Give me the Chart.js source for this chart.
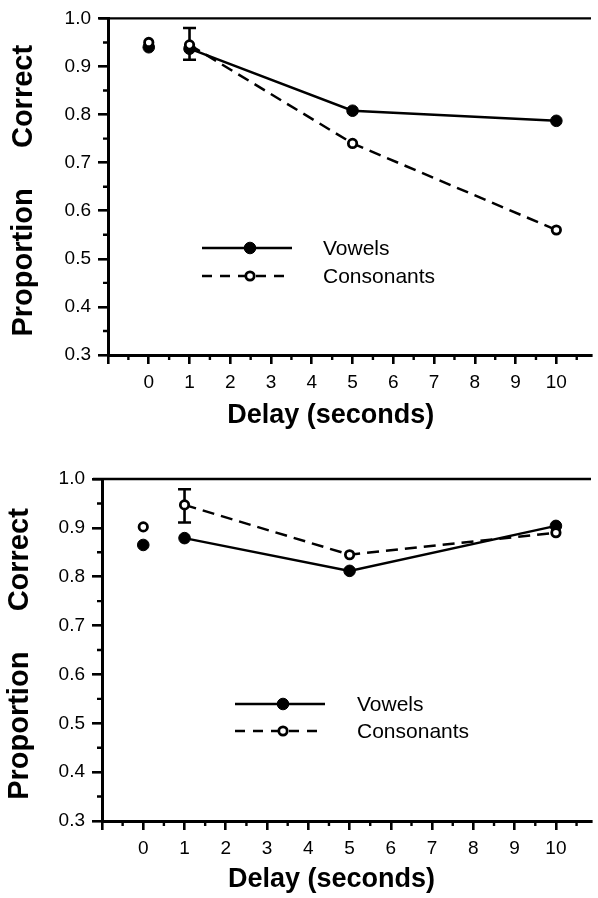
<!DOCTYPE html>
<html>
<head>
<meta charset="utf-8">
<script src="https://cdn.jsdelivr.net/npm/chart.js@4.4.1/dist/chart.umd.min.js"></script>
<style>
  html, body { margin: 0; padding: 0; background: #fff; }
  canvas { display: block; }
</style>
</head>
<body>
<canvas id="grafica1" width="598" height="449"></canvas>
<canvas id="grafica2" width="598" height="449"></canvas>
<script>
// datos
const seriesNames = ['Vowels', 'Consonants'];
const delays = [1, 5, 10];          // segundos, puntos unidos por linea
const delayZero = 0;                // punto suelto
const xTickValues = [0, 1, 2, 3, 4, 5, 6, 7, 8, 9, 10];
const yTickValues = [0.3, 0.4, 0.5, 0.6, 0.7, 0.8, 0.9, 1.0];

// grafica de arriba
const vowelsTop = [0.937, 0.808, 0.787];
const consonantsTop = [0.945, 0.740, 0.560];
const vowelsTopZero = 0.940;
const consonantsTopZero = 0.950;
const errTop = [0.914, 0.980];      // barra de error, consonantes a 1 s

// grafica de abajo
const vowelsBottom = [0.879, 0.812, 0.904];
const consonantsBottom = [0.947, 0.845, 0.890];
const vowelsBottomZero = 0.865;
const consonantsBottomZero = 0.902;
const errBottom = [0.911, 0.979];

const FONT = '"Liberation Sans", Arial, Helvetica, sans-serif';

const solidStyle = {
    borderColor: '#000', borderWidth: 2.5,
    pointRadius: 5.8, pointBackgroundColor: '#000', pointBorderColor: '#000', pointBorderWidth: 1
};
const dashedStyle = {
    borderColor: '#000', borderWidth: 2.5, borderDash: [12, 7],
    pointRadius: 4.2, pointBackgroundColor: '#fff', pointBorderColor: '#000', pointBorderWidth: 2.8
};

// barras de error, ticks menores, borde de arriba y leyenda
const extras = {
    id: 'extras',
    beforeDatasetsDraw(chart, args, opts) {
        const { ctx, scales: { x, y } } = chart;
        const px = x.getPixelForValue(opts.errX);
        const lo = y.getPixelForValue(opts.err[0]);
        const hi = y.getPixelForValue(opts.err[1]);
        ctx.save();
        ctx.strokeStyle = '#000';
        ctx.lineWidth = 2.6;
        ctx.beginPath();
        ctx.moveTo(px, lo); ctx.lineTo(px, hi);
        ctx.moveTo(px - 6.5, lo); ctx.lineTo(px + 6.5, lo);
        ctx.moveTo(px - 6.5, hi); ctx.lineTo(px + 6.5, hi);
        ctx.stroke();
        ctx.restore();
    },
    afterDraw(chart, args, opts) {
        const { ctx, chartArea, scales: { x, y } } = chart;
        ctx.save();
        ctx.strokeStyle = '#000';
        ctx.lineWidth = 2.4;
        ctx.beginPath();
        // ticks menores
        for (let v = x.min + 0.5; v < x.max; v += 1) {
            const px = x.getPixelForValue(v);
            ctx.moveTo(px, chartArea.bottom); ctx.lineTo(px, chartArea.bottom + 5);
        }
        for (let v = y.min + 0.05; v < y.max; v += 0.1) {
            const py = y.getPixelForValue(v);
            ctx.moveTo(chartArea.left, py); ctx.lineTo(chartArea.left - 5, py);
        }
        // borde de arriba
        ctx.moveTo(chartArea.left - 9, chartArea.top);
        ctx.lineTo(chartArea.right, chartArea.top);
        ctx.stroke();

        // leyenda
        const k = opts.key;
        seriesNames.forEach((name, i) => {
            const ds = chart.data.datasets.find(d => d.label === name);
            const yy = k.y + i * k.gap;
            ctx.save();
            ctx.lineWidth = ds.borderWidth;
            ctx.setLineDash(i === 0 ? [] : [10, 8]);
            ctx.beginPath();
            ctx.moveTo(k.x0, yy); ctx.lineTo(k.x1, yy);
            ctx.stroke();
            ctx.restore();
            ctx.beginPath();
            ctx.arc(k.px, yy, ds.pointRadius, 0, Math.PI * 2);
            ctx.fillStyle = ds.pointBackgroundColor;
            ctx.fill();
            ctx.lineWidth = ds.pointBorderWidth;
            ctx.stroke();
            ctx.fillStyle = '#000';
            ctx.font = '21px ' + FONT;
            ctx.textAlign = 'left';
            ctx.textBaseline = 'middle';
            ctx.fillText(name, k.textX, yy + 1);
        });
        ctx.restore();
    }
};

function crearGrafica(id, vowels, consonants, vowelsZero, consonantsZero, err, geo) {
    const ctx = document.getElementById(id).getContext('2d');
    return new Chart(ctx, {
        type: 'line',
        data: {
            datasets: [
                Object.assign({ label: seriesNames[1], data: delays.map((d, i) => ({ x: d, y: consonants[i] })) }, dashedStyle),
                Object.assign({ label: seriesNames[1] + ' 0', data: [{ x: delayZero, y: consonantsZero }], showLine: false }, dashedStyle),
                Object.assign({ label: seriesNames[0], data: delays.map((d, i) => ({ x: d, y: vowels[i] })) }, solidStyle),
                Object.assign({ label: seriesNames[0] + ' 0', data: [{ x: delayZero, y: vowelsZero }], showLine: false }, solidStyle)
            ]
        },
        options: {
            responsive: false,
            animation: false,
            devicePixelRatio: 1,
            layout: { padding: { top: geo.top, left: 0, right: 0, bottom: 0 } },
            plugins: {
                legend: { display: false },
                tooltip: { enabled: false },
                extras: { errX: delays[0], err: err, key: geo.key }
            },
            scales: {
                x: {
                    type: 'linear',
                    min: -1,
                    max: 10.85,
                    afterFit: s => { s.height = geo.xHeight; },
                    afterBuildTicks: s => { s.ticks = [-1].concat(xTickValues).map(v => ({ value: v })); },
                    ticks: {
                        autoSkip: false,
                        maxRotation: 0,
                        padding: 7,
                        color: '#000',
                        font: { family: FONT, size: 19 },
                        callback: v => xTickValues.includes(v) ? String(v) : ''
                    },
                    grid: { drawOnChartArea: false, tickLength: 9, lineWidth: 2.6, color: '#000' },
                    border: { width: 3, color: '#000' },
                    title: {
                        display: true,
                        text: 'Delay (seconds)' + geo.xTitleTail,
                        color: '#000',
                        font: { family: FONT, size: 27, weight: 'bold' },
                        padding: { top: 0, bottom: geo.xTitlePad }
                    }
                },
                y: {
                    min: 0.3,
                    max: 1.0,
                    afterFit: s => { s.width = geo.yWidth; },
                    afterBuildTicks: s => { s.ticks = yTickValues.map(v => ({ value: v })); },
                    ticks: {
                        padding: 7,
                        color: '#000',
                        font: { family: FONT, size: 19 },
                        callback: v => v.toFixed(1)
                    },
                    grid: { drawOnChartArea: false, tickLength: 10, lineWidth: 2.6, color: '#000' },
                    border: { width: 3, color: '#000' },
                    title: {
                        display: true,
                        text: 'Proportion     Correct ',
                        color: '#000',
                        font: { family: FONT, size: 29, weight: 'bold' },
                        padding: { top: geo.yTitlePad, bottom: 0 }
                    }
                }
            }
        },
        plugins: [extras]
    });
}

crearGrafica('grafica1', vowelsTop, consonantsTop, vowelsTopZero, consonantsTopZero, errTop, {
    top: 13, yWidth: 108, xHeight: 94, xTitlePad: 17, xTitleTail: '     ', yTitlePad: 7,
    key: { x0: 202, x1: 292, px: 250, y: 248, gap: 28, textX: 323 }
});
crearGrafica('grafica2', vowelsBottom, consonantsBottom, vowelsBottomZero, consonantsBottomZero, errBottom, {
    top: 30, yWidth: 102, xHeight: 77, xTitlePad: 2, xTitleTail: '    ', yTitlePad: 3,
    key: { x0: 235, x1: 325, px: 283, y: 255, gap: 27, textX: 357 }
});
</script>
</body>
</html>
